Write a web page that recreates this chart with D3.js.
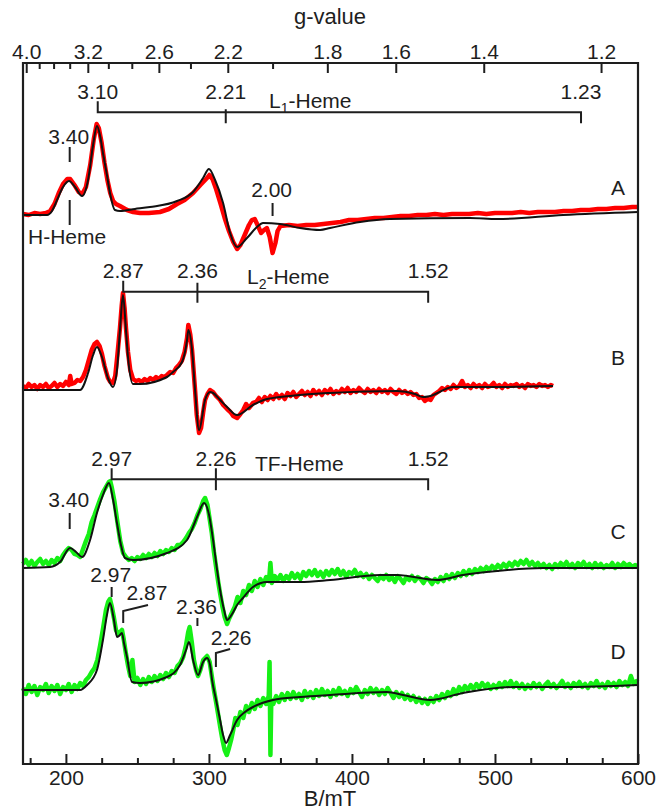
<!DOCTYPE html>
<html><head><meta charset="utf-8">
<script src="https://cdn.jsdelivr.net/npm/d3@7"></script>
<style>
body{margin:0;background:#fff}
svg text{font-family:"Liberation Sans",Arial,sans-serif;fill:#1e1e1e}
</style>
</head><body><svg id="chart" width="658" height="812"></svg>
<script>
// ---------- data ----------
const G_CONST = 689;                    // h·nu/muB in mT
const fieldDomain = [170, 600];
const fieldTicksMajor = [200, 300, 400, 500, 600];
const fieldTicksMinor = [175, 225, 250, 275, 325, 350, 375, 425, 450, 475, 525, 550, 575];
const gTicksMajor = [4.0, 3.2, 2.6, 2.2, 1.8, 1.6, 1.4, 1.2];
const gTicksMinor = [3.8, 3.6, 3.4, 3.0, 2.8, 2.4, 2.0];
const panelNames = ["A", "B", "C", "D"];
const panelOffsets = [549, 374, 197, 74];   // stacking offsets (intensity units)

const simA = [[170,0],[186.8,0],[190.3,4],[193.8,15],[198,28],[202.2,34],[206.4,28],[211.3,19],[215.5,35],[219,70],[221.7,89],[223.8,80],[225.9,62],[228.7,40],[230.8,22],[234.3,5],[237.8,4],[248.3,6],[258.8,8],[277.7,14],[288.9,23],[295.9,37],[300,46],[304.3,35],[309.9,12],[314.8,-18],[319.7,-32],[326.6,-23],[333.6,-12],[337.8,-8],[349.7,-9],[363.7,-13],[377.7,-15],[384.7,-13],[405.7,-7],[426.6,-4],[482.6,-3],[501.5,-4],[547.6,0],[600,3]];
const expA = [[170,1],[174,0],[178,2],[182,1],[186,2],[189,4],[192,11],[195,22],[198,31],[201,36],[203,36],[206,30],[209,23],[211.5,21],[214,28],[217,50],[219.5,76],[221.5,91],[223,87],[225,72],[227,52],[229,35],[231,22],[233,14],[235,11],[237.8,9],[242.7,5],[247,3],[251.8,2],[258,2],[265.8,3],[272,6],[277.7,11],[283,15],[288.9,22],[294,30],[298.7,37],[300.3,40],[302.5,36],[305,26],[308,12],[311,-3],[314,-16],[317,-27],[319.7,-34],[322,-30],[325,-20],[328,-10],[330,-5],[332,-4],[334,-10],[336.5,-18],[338.5,-15],[340.5,-13],[342.5,-22],[344.5,-38],[346.5,-28],[348,-16],[350,-11],[356,-10],[362,-11],[368,-10],[374,-10],[380,-9],[386,-8],[392,-7],[398,-5],[404,-5],[410,-4],[416,-3],[422,-3],[428,-2],[434,-1],[440,-1],[446,0],[452,0],[458,1],[464,0],[470,1],[476,1],[482,1],[488,2],[494,1],[500,2],[506,2],[512,2],[518,3],[524,2],[530,3],[536,3],[542,3],[548,4],[554,4],[560,5],[566,5],[572,6],[578,6],[584,7],[590,7],[596,8],[600,8]];

const simB = [[170,0],[209.9,0],[215.5,17],[219,35],[221.7,43],[225.2,33],[229.4,12],[232.9,3],[235.7,20],[237.8,60],[239.9,95],[242,60],[243.4,33],[246.9,6],[251.8,6],[270.7,13],[274.9,18],[281.2,28],[284.7,50],[285.6,60],[288.2,40],[290.3,0],[293.1,-40],[297.3,-10],[300.8,-2],[302.9,-3],[307.8,-10],[312.7,-17],[319.7,-25],[330.8,-15],[340.6,-9],[363.7,-5],[384.7,-3],[431.5,-1],[444.1,-4],[449.7,-7],[454.6,-6],[470.7,3],[501.5,3],[540.6,4]];
const expB = [[170,4],[172,2],[174,6],[176,3],[178,5],[180,1],[182,5],[184,3],[186,6],[188,2],[190,4],[192,7],[194,3],[196,6],[198,4],[200,8],[202,5],[203,14],[204,6],[206,7],[208,10],[210,9],[212,13],[214,20],[216,30],[218,40],[220,46],[221.7,48],[223.5,44],[225.2,36],[227,24],[229.4,12],[231,8],[232.9,7],[234.5,14],[236,35],[237.8,62],[239,84],[239.9,97],[241,82],[242,62],[243.4,38],[245,20],[246.9,11],[249,9],[251,10],[253,8],[255,11],[257,9],[259,12],[261,10],[263,13],[265,11],[267,14],[269,13],[270.7,15],[273,18],[275,17],[277,22],[279,25],[281,29],[283,38],[284.7,52],[285.6,65],[287,55],[288.2,40],[290.3,0],[291.5,-25],[293.1,-43],[294.5,-38],[296,-22],[297.3,-10],[299,-4],[300.8,0],[302.9,-2],[305,-6],[307.8,-10],[310,-15],[312.7,-19],[315,-22],[317,-26],[319.7,-28],[322,-24],[324,-20],[326,-14],[328,-18],[330.8,-13],[333,-12],[335,-8],[337,-12],[339,-7],[341,-10],[343,-6],[345,-9],[347,-4],[349,-8],[351,-5],[353,-9],[355,-3],[357,-6],[359,-2],[361,-7],[363,-4],[365,-1],[367,-5],[369,-2],[371,-6],[373,0],[375,-4],[377,-1],[379,-5],[381,0],[383,-3],[385,1],[387,-4],[389,-1],[391,-3],[393,1],[395,-2],[397,2],[399,-3],[401,0],[403,-2],[405,2],[407,-1],[409,-3],[411,1],[413,-2],[415,0],[417,-3],[419,1],[421,-2],[423,0],[425,-3],[427,1],[429,-2],[431,-4],[433,0],[435,-3],[437,-1],[439,-4],[441,-2],[443,-5],[445,-4],[447,-8],[449,-7],[451,-11],[453,-9],[455,-10],[457,-5],[459,-3],[461,-1],[463,2],[465,0],[467,3],[469,1],[471,5],[473,2],[475,4],[477,9],[479,3],[481,5],[483,2],[485,6],[487,3],[489,5],[491,2],[493,6],[495,3],[497,4],[499,7],[501,3],[503,5],[505,2],[507,6],[509,3],[511,5],[513,4],[515,6],[517,3],[519,5],[521,2],[523,6],[525,4],[527,5],[529,3],[531,6],[533,4],[535,5],[537,3],[539,5],[540.6,4]];

const simC = [[170,-1],[188.9,0],[195.9,5],[202.9,19],[207.1,15],[211.3,10],[216.9,27],[221.7,54],[225.9,72],[230.1,84],[233,67],[235.7,44],[238.5,22],[241.3,9],[246.9,7],[270.7,14],[284.7,27],[291.7,50],[296.6,64],[300.1,52],[302.9,27],[305.7,-3],[307.8,-23],[310.6,-43],[312.7,-53],[316.2,-47],[319.7,-38],[323.8,-31],[330.8,-20],[340.6,-15],[363.7,-15],[384.7,-13],[419.7,-8],[431.5,-8],[459.5,-13],[477.7,-8],[501.5,-4],[533.6,-1],[600,-1]];
const expC = [[170,3],[172,7],[174,2],[176,6],[178,1],[180,5],[182,8],[184,3],[186,6],[188,2],[190,7],[192,4],[194,9],[196,6],[198,12],[200,16],[202,19],[204,17],[206,13],[208,12],[210,10],[212,18],[214,26],[216,33],[218,45],[220,52],[222,60],[224,68],[226,75],[228,80],[230,85],[231,86],[232,80],[234,65],[236,45],[238,26],[240,14],[242,10],[244,7],[246,9],[248,6],[250,10],[252,8],[254,12],[256,9],[258,13],[260,10],[262,14],[264,11],[266,16],[268,13],[270,17],[272,15],[274,19],[276,17],[278,22],[280,22],[282,25],[284,29],[286,34],[288,38],[290,44],[292,52],[294,58],[296,66],[297.3,69],[299,62],[300.5,48],[302,34],[303.5,15],[305,0],[306.5,-15],[308,-28],[309.5,-40],[311,-50],[312.7,-57],[314,-52],[316,-46],[318,-40],[320,-30],[322,-36],[324,-24],[326,-28],[328,-18],[330,-24],[332,-14],[334,-20],[336,-12],[338,-18],[340,-10],[342,-14],[343,4],[344,-16],[346,-9],[348,-13],[350,-8],[352,-14],[354,-9],[356,-12],[358,-6],[360,-11],[362,-7],[364,-12],[366,-5],[368,-9],[370,-4],[372,-8],[374,-3],[376,-9],[378,-5],[380,-10],[382,-4],[384,-8],[386,-3],[388,-7],[390,-2],[392,-8],[394,-4],[396,-10],[398,-5],[400,-7],[402,-3],[404,-9],[406,-6],[408,-10],[410,-7],[412,-12],[414,-8],[416,-11],[418,-14],[420,-9],[422,-12],[424,-8],[426,-13],[428,-10],[430,-15],[432,-9],[434,-12],[436,-16],[438,-10],[440,-13],[442,-9],[444,-14],[446,-10],[448,-12],[450,-16],[452,-11],[454,-13],[456,-17],[458,-12],[460,-15],[462,-10],[464,-14],[466,-8],[468,-12],[470,-7],[472,-11],[474,-6],[476,-9],[478,-4],[480,-8],[482,-3],[484,-7],[486,-2],[488,-5],[490,-1],[492,-4],[494,0],[496,-3],[498,1],[500,-2],[502,2],[504,-1],[506,3],[508,0],[510,4],[512,1],[514,5],[516,2],[518,6],[520,3],[522,7],[524,2],[526,5],[528,1],[530,4],[532,0],[534,3],[536,-1],[538,2],[540,-2],[542,3],[544,0],[546,4],[548,1],[550,5],[552,0],[554,3],[556,-1],[558,4],[560,1],[562,5],[564,0],[566,3],[568,-1],[570,4],[572,0],[574,3],[576,-1],[578,2],[580,0],[582,4],[584,-1],[586,3],[588,0],[590,4],[592,1],[594,3],[596,0],[598,2],[600,1]];

const simD = [[170,0],[209.9,0],[214.8,5],[221.7,20],[225.9,50],[228.7,75],[230.8,87],[233.6,70],[235.7,53],[237.1,54],[239.2,57],[240.6,47],[242.7,33],[246.2,8],[251.8,7],[270.7,13],[279.8,25],[284,40],[286.1,48],[288.9,30],[292.4,15],[295.9,28],[298.7,32],[300.8,25],[302.2,10],[305,-10],[307.8,-30],[309.9,-45],[312,-53],[314.8,-45],[319.7,-30],[325.2,-22],[330.8,-17],[344.8,-10],[363.7,-7],[384.7,-5],[424.5,-2],[435.7,-5],[454.6,-10],[477.7,-3],[512.7,3],[547.6,3],[600,5]];
const expD = [[170,2],[172,-4],[174,5],[176,-2],[178,4],[180,-5],[182,3],[184,0],[186,6],[188,-3],[190,4],[192,-1],[194,5],[196,-4],[198,3],[200,0],[202,6],[204,-2],[206,5],[208,1],[210,7],[212,4],[214,10],[216,13],[218,18],[220,22],[222,30],[224,45],[226,62],[228,80],[229.5,88],[230.8,91],[232,84],[233.6,72],[235,60],[236.5,56],[238,58],[239.2,60],[240.5,50],[242,36],[243.5,24],[245,14],[246.5,30],[248,8],[250,12],[252,5],[254,11],[256,6],[258,13],[260,8],[262,14],[264,9],[266,15],[268,11],[270,17],[272,13],[274,19],[276,17],[278,24],[280,27],[282,33],[284,45],[285.5,58],[286.5,63],[288,48],[289.5,30],[291,20],[292.4,14],[294,20],[296,30],[298.7,34],[300.5,28],[302,14],[303.5,0],[305,-12],[306.5,-25],[308,-38],[309.5,-50],[311,-60],[312.5,-65],[314,-58],[315.5,-50],[317,-40],[318.5,-28],[320,-35],[322,-22],[324,-28],[326,-16],[328,-22],[330,-13],[332,-19],[334,-10],[336,-16],[338,-8],[340,-14],[341.8,-6],[342.4,28],[343,-65],[343.6,-10],[345,-14],[347,-6],[349,-12],[351,-4],[353,-10],[355,-3],[357,-9],[359,-2],[361,-8],[363,-4],[365,-10],[367,-1],[369,-7],[371,-2],[373,-8],[375,0],[377,-6],[379,1],[381,-5],[383,-1],[385,-7],[387,0],[389,-5],[391,2],[393,-4],[395,-1],[397,-6],[399,1],[401,-3],[403,3],[405,-2],[407,-7],[409,0],[411,-4],[413,2],[415,-3],[417,1],[419,-5],[421,0],[423,-4],[425,2],[427,-3],[429,-8],[431,-2],[433,-7],[435,-3],[437,-9],[439,-5],[441,-10],[443,-6],[445,-12],[447,-8],[449,-13],[451,-9],[453,-14],[455,-8],[457,-12],[459,-6],[461,-10],[463,-4],[465,-8],[467,-2],[469,-6],[471,1],[473,-4],[475,3],[477,-2],[479,4],[481,0],[483,5],[485,1],[487,6],[489,2],[491,7],[493,3],[495,6],[497,1],[499,5],[501,2],[503,7],[505,3],[507,8],[509,4],[511,9],[513,3],[515,7],[517,2],[519,6],[521,1],[523,5],[525,2],[527,7],[529,3],[531,6],[533,1],[535,5],[537,8],[539,3],[541,6],[543,2],[545,5],[547,9],[549,3],[551,6],[553,2],[555,7],[557,4],[559,8],[561,3],[563,6],[565,2],[567,7],[569,4],[571,9],[573,3],[575,6],[577,2],[579,8],[581,4],[583,7],[585,3],[587,9],[589,5],[591,8],[593,4],[595,14],[597,6],[599,9],[600,8]];

// g-value annotations
const brackets = [
  {g:[3.10, 2.21, 1.23], name:["L","1","-Heme"], panel:0},
  {g:[2.87, 2.36, 1.52], name:["L","2","-Heme"], panel:1},
  {g:[2.97, 2.26, 1.52], name:["TF-Heme"], panel:2}
];
const marks = [
  {g:3.40, text:"3.40", panel:0},
  {g:2.00, text:"2.00", panel:0},
  {g:3.40, text:"3.40", panel:2},
  {g:2.97, text:"2.97", panel:3},
  {g:2.36, text:"2.36", panel:3}
];
const hooks = [
  {g:2.87, text:"2.87", panel:3},
  {g:2.26, text:"2.26", panel:3}
];

// ---------- layout ----------
const plot = {left:23, right:638, top:63, bottom:764};
const FS = 21;
const ink = "#1e1e1e";
const svg = d3.select("#chart");
const x = d3.scaleLinear().domain(fieldDomain).range([plot.left, plot.right]);
const y = d3.scaleLinear().domain([0, 701]).range([plot.bottom, plot.top]);
const gInv = d3.scaleLinear().domain(fieldDomain.map(b => b / G_CONST)).range([plot.left, plot.right]);
const xg = g => x(G_CONST / g);

const panels = [
  {exp:expA, sim:simA, color:"#ff0000", rise:27},
  {exp:expB, sim:simB, color:"#ff0000", rise:32},
  {exp:expC, sim:simC, color:"#16f016", rise:35},
  {exp:expD, sim:simD, color:"#16f016", rise:38}
];

// spectra
panels.forEach((p, i) => {
  const off = panelOffsets[i];
  const lineExp = d3.line().x(d => x(d[0])).y(d => y(off + d[1]));
  const lineSim = d3.line().x(d => x(d[0])).y(d => y(off + d[1])).curve(d3.curveMonotoneX);
  svg.append("path").attr("d", lineExp(p.exp)).attr("fill", "none")
    .attr("stroke", p.color).attr("stroke-width", 4.5).attr("stroke-linejoin", "round");
  svg.append("path").attr("d", lineSim(p.sim)).attr("fill", "none")
    .attr("stroke", "#111").attr("stroke-width", 2);
  svg.append("text").attr("x", x(586)).attr("y", y(off + p.rise)).attr("dy", "0.35em")
    .attr("text-anchor", "middle").attr("font-size", FS).text(panelNames[i]);
});

// frame
svg.append("path")
  .attr("d", `M${plot.left},${plot.top}H${plot.right}V${plot.bottom}H${plot.left}Z`)
  .attr("fill", "none").attr("stroke", "#1e1e1e").attr("stroke-width", 2.2);

// bottom axis
const axB = svg.append("g").attr("transform", `translate(0,${plot.bottom})`)
  .call(d3.axisBottom(x).tickValues(fieldTicksMajor).tickSize(-10).tickPadding(6));
axB.append("g").call(d3.axisBottom(x).tickValues(fieldTicksMinor).tickSize(-6).tickFormat(""));
// top axis (g-value)
const axT = svg.append("g").attr("transform", `translate(0,${plot.top})`)
  .call(d3.axisTop(gInv).tickValues(gTicksMajor.map(g => 1 / g)).tickSize(-10).tickPadding(4)
    .tickFormat(d => d3.format(".1f")(1 / d)));
axT.append("g").call(d3.axisTop(gInv).tickValues(gTicksMinor.map(g => 1 / g)).tickSize(-6).tickFormat(""));
svg.selectAll(".domain").remove();
svg.selectAll(".tick line").attr("stroke", ink).attr("stroke-width", 2);
svg.selectAll(".tick text").attr("font-size", FS).attr("fill", ink)
  .attr("font-family", '"Liberation Sans",Arial,sans-serif');

svg.append("text").attr("x", 330).attr("y", 24).attr("text-anchor", "middle")
  .attr("font-size", 22).text("g-value");
svg.append("text").attr("x", 330).attr("y", 806).attr("text-anchor", "middle")
  .attr("font-size", 22).text("B/mT");

// annotations
const ann = svg.append("g").attr("stroke", ink).attr("stroke-width", 2).attr("fill", "none");
const label = (bx, py, t) => svg.append("text").attr("x", bx).attr("y", py).attr("dy", "0.35em")
  .attr("text-anchor", "middle").attr("font-size", FS).text(t);

const bracketLevel = [651.7, 472.3, 284.7];
const bracketMidUp = [3, 9, 11];
const bracketNameB = [342, 326.6, 332.2];
const bracketNameRise = [12, 15, 16];
brackets.forEach((b, i) => {
  const ly = y(bracketLevel[i]);
  const [x0, x1, x2] = b.g.map(xg);
  ann.append("path").attr("d", `M${x0},${ly - 11}V${ly}H${x2}V${ly + 11}M${x1},${ly - bracketMidUp[i]}V${ly + 11}`);
  b.g.forEach(g => label(xg(g), ly - 21, d3.format(".2f")(g)));
  const t = svg.append("text").attr("x", x(bracketNameB[i])).attr("y", ly - bracketNameRise[i])
    .attr("dy", "0.35em").attr("font-size", FS);
  if (b.name.length === 3) {
    t.append("tspan").text(b.name[0]);
    t.append("tspan").attr("font-size", 14).attr("dy", 5).text(b.name[1]);
    t.append("tspan").attr("dy", -5).text(b.name[2]);
  } else t.text(b.name[0]);
});

const markLayout = [
  {lab:137, t0:147, t1:162},
  {lab:190, t0:203, t1:216},
  {lab:500, t0:513, t1:529},
  {lab:575, t0:587, t1:597},
  {lab:607, t0:618, t1:626}
];
marks.forEach((m, i) => {
  const L = markLayout[i], mx = xg(m.g);
  ann.append("line").attr("x1", mx).attr("x2", mx).attr("y1", L.t0).attr("y2", L.t1);
  label(mx - 1, L.lab, m.text);
});
// H-Heme
ann.append("line").attr("x1", xg(3.40)).attr("x2", xg(3.40)).attr("y1", 200).attr("y2", 225);
svg.append("text").attr("x", 28).attr("y", 237).attr("dy", "0.35em").attr("font-size", FS).text("H-Heme");

const hookLayout = [
  {labB:256.7, lab:593, bot:623, top:611, endB:257.4, endY:605},
  {labB:315.5, lab:638, bot:667, top:653, endB:314.8, endY:649}
];
hooks.forEach((h, i) => {
  const L = hookLayout[i], hx = xg(h.g);
  ann.append("path").attr("d", `M${hx},${L.bot}V${L.top}L${x(L.endB)},${L.endY}`);
  label(x(L.labB), L.lab, h.text);
});
</script></body></html>
